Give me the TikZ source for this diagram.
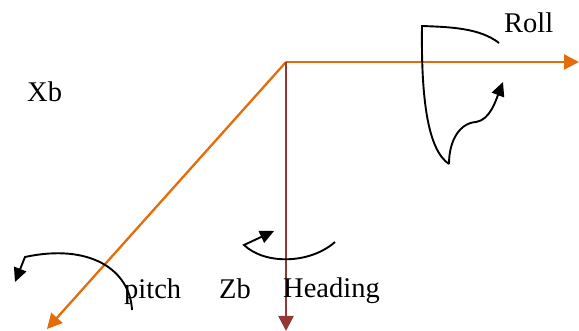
\documentclass[tikz,border=0pt]{standalone}
\usepackage{fontspec}
\setmainfont{Liberation Serif}
\usetikzlibrary{arrows.meta}
\definecolor{axorange}{HTML}{E46C0A}
\definecolor{axred}{HTML}{953735}
\begin{document}
\begin{tikzpicture}[x=1pt,y=-1pt,
  axis/.style={line width=2.3pt,-{Triangle[length=15pt,width=15pt]}},
  curve/.style={line width=1.9pt,black},
  curvearrow/.style={curve,-{Triangle[length=14pt,width=13pt]}},
  lbl/.style={inner sep=0pt,anchor=base west,font=\fontsize{28.5}{32}\selectfont}]
\useasboundingbox (0,0) rectangle (579,331);
\coordinate (O) at (286,62);
\coordinate (xe) at (579,62);
\coordinate (de) at (47,329);
\coordinate (ve) at (286,331);
\draw[axis,axorange] (O) -- (xe);
\draw[axis,axorange] (O) -- (de);
\draw[axis,axred] (O) -- (ve);
% roll
\draw[curve] (499,43) .. controls (480,28) and (450,27) .. (422,26)
  .. controls (421,100) and (428,150) .. (449,164);
\draw[curvearrow] (449,164) .. controls (449,140) and (460,123) .. (476,122)
  .. controls (490,120) and (496,100) .. (503,82);
% pitch
\draw[curvearrow] (132,310) .. controls (130,270) and (90,243) .. (25,257) -- (15,282);
% heading
\draw[curvearrow] (335,242) .. controls (310,264) and (265,265) .. (244,245) -- (274,231);
\node[lbl] (roll) at (504,33) {Roll};
\node[lbl] (xb) at (27,102) {Xb};
\node[lbl] (pitch) at (124,299) {pitch};
\node[lbl] (zb) at (219,299) {Zb};
\node[lbl] (heading) at (283,298) {Heading};
\end{tikzpicture}
\end{document}
